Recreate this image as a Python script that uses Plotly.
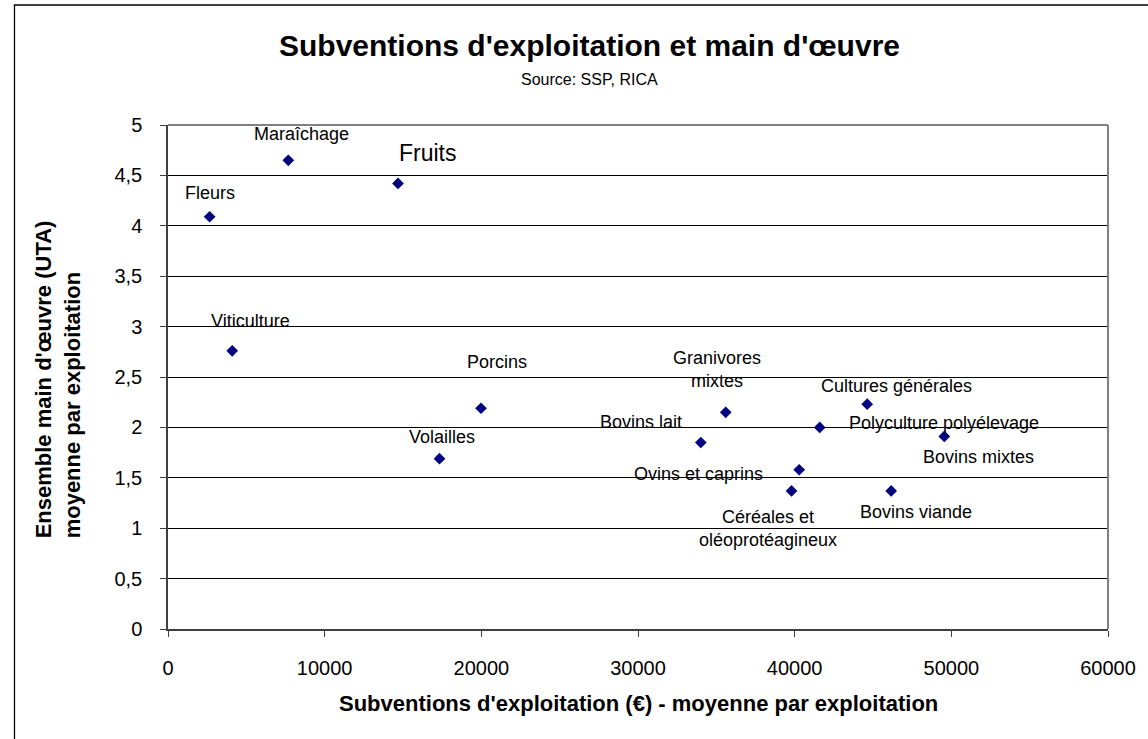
import plotly.graph_objects as go

# ---- data ----
categories = [
    "Fleurs", "Maraîchage", "Fruits", "Viticulture", "Porcins", "Volailles",
    "Granivores<br>mixtes", "Bovins lait", "Ovins et caprins",
    "Céréales et<br>oléoprotéagineux", "Polyculture polyélevage",
    "Cultures générales", "Bovins mixtes", "Bovins viande",
]
subventions = [2660, 7680, 14680, 4100, 19980, 17330,
               35600, 34010, 40290, 39800, 41600,
               44630, 49550, 46160]
main_oeuvre = [4.09, 4.65, 4.42, 2.76, 2.19, 1.69,
               2.15, 1.85, 1.58, 1.37, 2.00,
               2.23, 1.91, 1.37]

x_tick_values = [0, 10000, 20000, 30000, 40000, 50000, 60000]
x_tick_labels = ["0", "10000", "20000", "30000", "40000", "50000", "60000"]
y_tick_values = [0, 0.5, 1, 1.5, 2, 2.5, 3, 3.5, 4, 4.5, 5]
y_tick_labels = ["0", "0,5", "1", "1,5", "2", "2,5", "3", "3,5", "4", "4,5", "5"]

title_text = "Subventions d'exploitation et main d'œuvre"
subtitle_text = "Source: SSP, RICA"
x_title = "Subventions d'exploitation (€) - moyenne par exploitation"
y_title = "Ensemble main d'œuvre (UTA)<br>moyenne par exploitation"

# ---- style: label offsets in pixels (dx, dy) and font sizes ----
label_offsets = [(0, 24), (13, 26), (30, 30), (18, 30), (16, 46), (2, 22),
                 (-9, 43), (-60, 21), (-101, -4),
                 (-24, -38), (124, 4),
                 (29, 18), (34, -21), (25, -21)]
label_sizes = [18, 18, 23, 18, 18, 18, 18, 18, 18, 18, 18, 18, 18, 18]

FONT = "Liberation Sans, Arial, sans-serif"
W, H = 1148, 739
L, R, T, B = 168, 37, 125, 110
PW, PH = W - L - R, H - T - B


def px_x(px):
    return (px - L) / PW


def px_y(py):
    return (H - B - py) / PH


fig = go.Figure()
fig.add_trace(go.Scatter(
    x=subventions, y=main_oeuvre, mode="markers",
    marker=dict(symbol="diamond", size=9, color="#000080",
                line=dict(width=0)),
    text=categories, hoverinfo="text", showlegend=False,
))

annotations = []
for cat, xv, yv, (dx, dy), fs in zip(categories, subventions, main_oeuvre,
                                     label_offsets, label_sizes):
    annotations.append(dict(
        x=xv, y=yv, xref="x", yref="y", text=cat, showarrow=False,
        xshift=dx, yshift=dy, xanchor="center", yanchor="middle",
        font=dict(family=FONT, size=fs, color="black"),
    ))

annotations += [
    dict(x=px_x(591), y=px_y(46), xref="paper", yref="paper",
         text="<b>" + title_text + "</b>", showarrow=False,
         xanchor="center", yanchor="middle",
         font=dict(family=FONT, size=30, color="black")),
    dict(x=px_x(591), y=px_y(79), xref="paper", yref="paper",
         text=subtitle_text, showarrow=False,
         xanchor="center", yanchor="middle",
         font=dict(family=FONT, size=16, color="black")),
    dict(x=px_x(640), y=px_y(703), xref="paper", yref="paper",
         text="<b>" + x_title + "</b>", showarrow=False,
         xanchor="center", yanchor="middle",
         font=dict(family=FONT, size=22, color="black")),
    dict(x=px_x(58), y=px_y(540), xref="paper", yref="paper",
         text="<b>" + y_title + "</b>", showarrow=False, textangle=-90,
         align="left", xanchor="center", yanchor="bottom",
         font=dict(family=FONT, size=22, color="black")),
]

shapes = [
    # outer chart border (runs off the right and bottom of the picture)
    dict(type="rect", xref="paper", yref="paper",
         x0=px_x(14), x1=px_x(1300), y0=px_y(900), y1=px_y(5),
         line=dict(color="black", width=1.3), fillcolor="rgba(0,0,0,0)",
         layer="below"),
    # plot-area top and right edges (gray)
    dict(type="line", xref="paper", yref="paper", x0=0, x1=1, y0=1, y1=1,
         line=dict(color="#808080", width=2)),
    dict(type="line", xref="paper", yref="paper", x0=1, x1=1, y0=0, y1=1,
         line=dict(color="#808080", width=2)),
]

fig.update_layout(
    width=W, height=H, autosize=False,
    margin=dict(l=L, r=R, t=T, b=B, pad=0),
    paper_bgcolor="white", plot_bgcolor="white",
    font=dict(family=FONT, color="black"),
    annotations=annotations, shapes=shapes,
    showlegend=False,
)
fig.update_xaxes(
    range=[0, 60000], tickvals=x_tick_values, ticktext=x_tick_labels,
    showgrid=False, zeroline=False,
    showline=True, linecolor="#404040", linewidth=1.5,
    ticks="outside", ticklen=6, tickcolor="#404040", tickwidth=1,
    ticklabelstandoff=14,
    tickfont=dict(family=FONT, size=20, color="black"),
)
fig.update_yaxes(
    range=[0, 5], tickvals=y_tick_values, ticktext=y_tick_labels,
    showgrid=True, gridcolor="black", gridwidth=1, zeroline=False,
    showline=True, linecolor="#404040", linewidth=1.5,
    ticks="outside", ticklen=6, tickcolor="#404040", tickwidth=1,
    ticklabelstandoff=14,
    tickfont=dict(family=FONT, size=20, color="black"),
)

fig.write_html("out.html",
               config={"displayModeBar": False},
               post_script="document.body.style.margin='0';"
                           "document.body.style.overflow='hidden';")
